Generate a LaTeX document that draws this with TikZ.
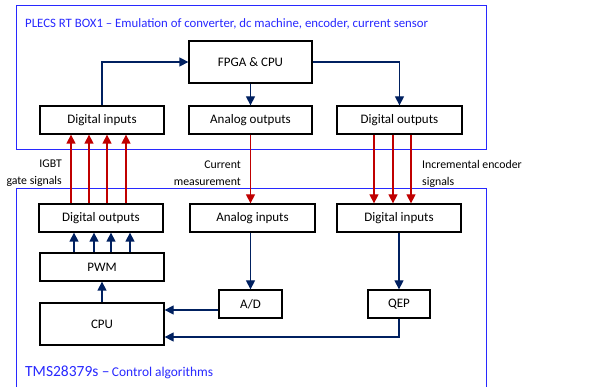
\documentclass[tikz,border=0pt]{standalone}
\usepackage{fontspec}
\setmainfont{Carlito}
\usetikzlibrary{arrows.meta,calc}
\definecolor{navy}{RGB}{0,32,96}
\definecolor{dred}{RGB}{192,0,0}
\definecolor{frameblue}{RGB}{40,40,255}
\begin{document}
\begin{tikzpicture}[x=1pt,y=-1pt,
  box/.style={draw=black,line width=1.3pt,inner sep=0pt,font=\fontsize{13}{15}\selectfont},
  frame/.style={draw=frameblue,line width=1pt},
  nav/.style={draw=navy,line width=1.3pt,-{Triangle[length=9pt,width=9pt]}},
  red/.style={draw=dred,line width=1.3pt,-{Triangle[length=9pt,width=9pt]}},
  lbl/.style={inner sep=0pt,font=\fontsize{11.8}{17}\selectfont}]
\useasboundingbox (0,0) rectangle (597,387);
\begin{scope}
\clip (0,0) rectangle (597,387);
\draw[frame] (16,6) rectangle (486,150);
\draw[frame] (16,400) -- (16,189) -- (486,189) -- (486,400);
\end{scope}
\node[anchor=west,inner sep=0pt,text=frameblue,font=\fontsize{12.8}{15}\selectfont] (t1) at (25,24) {PLECS RT BOX1 -- Emulation of converter, dc machine, encoder, current sensor};
\node[anchor=west,inner sep=0pt,text=frameblue] (t2) at (25,372) {{\fontsize{15.5}{17}\selectfont TMS28379s --} {\fontsize{13.4}{15}\selectfont Control algorithms}};
% top boxes
\node[box,minimum width=123pt,minimum height=42pt] (fpga) at (250.5,62) {FPGA \& CPU};
\node[box,minimum width=124pt,minimum height=28pt] (tdi) at (102,120) {Digital inputs};
\node[box,minimum width=123pt,minimum height=28pt] (tao) at (250.5,120) {Analog outputs};
\node[box,minimum width=125pt,minimum height=28pt] (tdo) at (399.5,120) {Digital outputs};
% bottom boxes
\node[box,minimum width=124pt,minimum height=28pt] (bdo) at (101,218) {Digital outputs};
\node[box,minimum width=125pt,minimum height=28pt] (bai) at (252.5,218) {Analog inputs};
\node[box,minimum width=124pt,minimum height=28pt] (bdi) at (399,218) {Digital inputs};
\node[box,minimum width=124pt,minimum height=28pt] (pwm) at (102,267) {PWM};
\node[box,minimum width=124pt,minimum height=42pt] (cpu) at (102,324) {CPU};
\node[box,minimum width=63pt,minimum height=28pt] (ad) at (250.5,304) {A/D};
\node[box,minimum width=62pt,minimum height=28pt] (qep) at (399,304) {QEP};
% labels
\node[lbl,anchor=east,align=right] (l1) at (62,173.5) {IGBT\\gate signals};
\node[lbl,anchor=east,align=right] (l2) at (241,173.5) {Current\\measurement};
\node[lbl,anchor=west,align=left] (l3) at (422,173.5) {Incremental encoder\\signals};
% top arrows
\draw[nav] (tdi.north) |- (fpga.west);
\draw[nav] (fpga.south) -- (tao.north);
\draw[nav] (fpga.east) -| (tdo.north);
% red arrows up
\foreach \dx in {-30,-12,6,25}
  \draw[red] ([xshift=\dx pt]bdo.north) -- ([xshift=\dx pt]bdo.north |- tdi.south);
\draw[red] (tao.south) -- (tao.south |- bai.north);
\foreach \dx in {-25.5,-6.5,11.5}
  \draw[red] ([xshift=\dx pt]tdo.south) -- ([xshift=\dx pt]tdo.south |- bdi.north);
% bottom arrows
\foreach \dx in {-28,-8,9,28}
  \draw[nav] ([xshift=\dx pt]pwm.north) -- ([xshift=\dx pt]pwm.north |- bdo.south);
\draw[nav] (cpu.north) -- (pwm.south);
\draw[nav] (ad.north |- bai.south) -- (ad.north);
\draw[nav] ([yshift=-6pt]ad.west) -- ([yshift=-6pt]ad.west -| cpu.east);
\draw[nav] (bdi.south) -- (qep.north);
\draw[nav] (qep.south) |- ([yshift=-13pt]cpu.east);
\end{tikzpicture}
\end{document}
